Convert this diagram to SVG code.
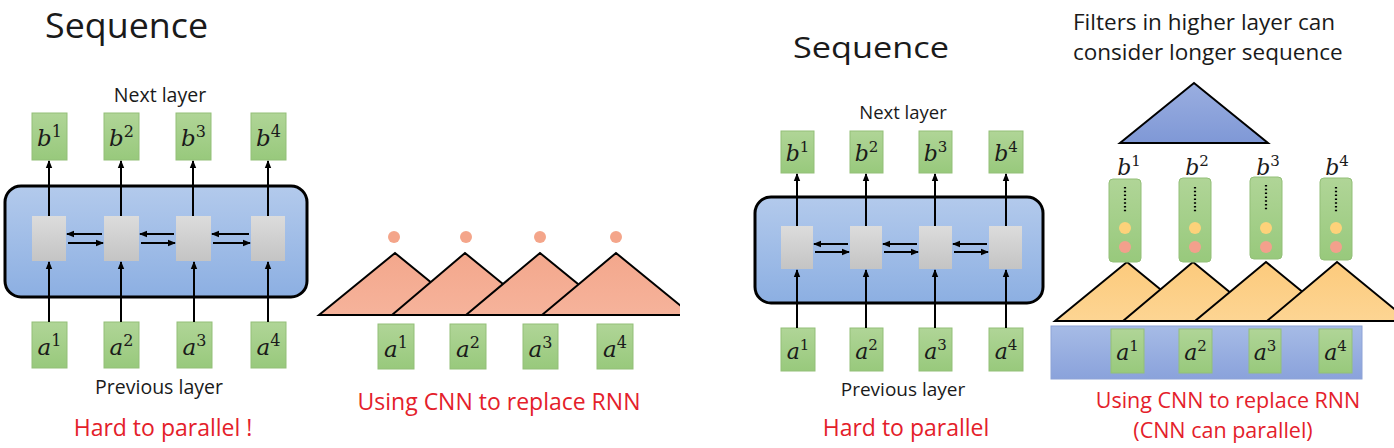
<svg xmlns="http://www.w3.org/2000/svg" width="1394" height="448" viewBox="0 0 1394 448">
<defs>
<linearGradient id="gGreen" x1="0" y1="0" x2="0" y2="1"><stop offset="0" stop-color="#b0d597"/><stop offset="1" stop-color="#98c97c"/></linearGradient>
<linearGradient id="gGray" x1="0" y1="0" x2="0" y2="1"><stop offset="0" stop-color="#dcdcdc"/><stop offset="1" stop-color="#c4c4c4"/></linearGradient>
<linearGradient id="gBlue" x1="0" y1="0" x2="0" y2="1"><stop offset="0" stop-color="#b3caec"/><stop offset="1" stop-color="#8cafe2"/></linearGradient>
<linearGradient id="gBar" x1="0" y1="0" x2="0" y2="1"><stop offset="0" stop-color="#a6bbe6"/><stop offset="1" stop-color="#8aa2db"/></linearGradient>
<linearGradient id="gTriBlue" x1="0" y1="0" x2="0" y2="1"><stop offset="0" stop-color="#9aaee0"/><stop offset="1" stop-color="#7f98d6"/></linearGradient>
<linearGradient id="gSalmon" x1="0" y1="0" x2="0" y2="1"><stop offset="0" stop-color="#f3a78c"/><stop offset="1" stop-color="#f6b39b"/></linearGradient>
<linearGradient id="gOrange" x1="0" y1="0" x2="0" y2="1"><stop offset="0" stop-color="#fcca7c"/><stop offset="1" stop-color="#fdd593"/></linearGradient>
<marker id="ah" viewBox="0 0 8 8" refX="7" refY="4" markerWidth="8" markerHeight="8" markerUnits="userSpaceOnUse" orient="auto"><path d="M0,0.8 L8,4 L0,7.2 z" fill="#000"/></marker>
<clipPath id="clipMid"><rect x="300" y="240" width="380" height="90"/></clipPath>
<clipPath id="clipRight"><rect x="1040" y="250" width="354" height="80"/></clipPath>
</defs>
<style>
.t{font-family:"Open Sans","Liberation Sans",sans-serif;fill:#1a1a1a}
.red{font-family:"Open Sans","Liberation Sans",sans-serif;fill:#e4202a}
.m{font-family:"DejaVu Serif","Liberation Serif",serif;fill:#1a1a1a}
.it{font-style:italic}
.gb{fill:url(#gGreen);stroke:#93bf78;stroke-width:1}
.gr{fill:url(#gGray);stroke:none}
.ar{stroke:#000;stroke-width:2;fill:none;marker-end:url(#ah)}
.tri{stroke:#000;stroke-width:2;stroke-linejoin:miter}
</style>

<!-- Left panel -->
<text class="t" x="45" y="38" font-size="34" textLength="163" lengthAdjust="spacingAndGlyphs">Sequence</text>
<text class="t" x="160" y="102" font-size="19.5" text-anchor="middle">Next layer</text>
<g id="L-rnn"><rect x="5" y="186" width="302" height="111" rx="16" fill="url(#gBlue)" stroke="#000" stroke-width="3"/></g>
<g id="L-b1"><rect class="gb" x="32" y="113" width="35" height="47"/><text class="m" x="49.5" y="146" font-size="23" text-anchor="middle"><tspan class="it">b</tspan><tspan font-size="16" dy="-9">1</tspan></text></g>
<g id="L-b2"><rect class="gb" x="104" y="113" width="35" height="47"/><text class="m" x="121.5" y="146" font-size="23" text-anchor="middle"><tspan class="it">b</tspan><tspan font-size="16" dy="-9">2</tspan></text></g>
<g id="L-b3"><rect class="gb" x="176" y="113" width="35" height="47"/><text class="m" x="193.5" y="146" font-size="23" text-anchor="middle"><tspan class="it">b</tspan><tspan font-size="16" dy="-9">3</tspan></text></g>
<g id="L-b4"><rect class="gb" x="251" y="113" width="35" height="47"/><text class="m" x="268.5" y="146" font-size="23" text-anchor="middle"><tspan class="it">b</tspan><tspan font-size="16" dy="-9">4</tspan></text></g>
<g id="L-c1"><rect class="gr" x="32" y="216" width="34" height="45"/></g>
<g id="L-c2"><rect class="gr" x="104" y="216" width="35" height="45"/></g>
<g id="L-c3"><rect class="gr" x="176" y="216" width="35" height="45"/></g>
<g id="L-c4"><rect class="gr" x="251" y="216" width="34" height="45"/></g>
<g id="L-a1"><rect class="gb" x="32" y="322" width="35" height="46"/><text class="m" x="49.5" y="355" font-size="23" text-anchor="middle"><tspan class="it">a</tspan><tspan font-size="16" dy="-9">1</tspan></text></g>
<g id="L-a2"><rect class="gb" x="104" y="322" width="35" height="46"/><text class="m" x="121.5" y="355" font-size="23" text-anchor="middle"><tspan class="it">a</tspan><tspan font-size="16" dy="-9">2</tspan></text></g>
<g id="L-a3"><rect class="gb" x="177" y="322" width="35" height="46"/><text class="m" x="194.5" y="355" font-size="23" text-anchor="middle"><tspan class="it">a</tspan><tspan font-size="16" dy="-9">3</tspan></text></g>
<g id="L-a4"><rect class="gb" x="251" y="322" width="35" height="46"/><text class="m" x="268.5" y="355" font-size="23" text-anchor="middle"><tspan class="it">a</tspan><tspan font-size="16" dy="-9">4</tspan></text></g>
<text class="t" x="159" y="394" font-size="19.5" text-anchor="middle">Previous layer</text>
<text class="red" x="163" y="436" font-size="23" text-anchor="middle">Hard to parallel !</text>
<g id="L-connectors">
<line class="ar" x1="49" y1="216" x2="49" y2="161"/>
<line class="ar" x1="121" y1="216" x2="121" y2="161"/>
<line class="ar" x1="193" y1="216" x2="193" y2="161"/>
<line class="ar" x1="268" y1="216" x2="268" y2="161"/>
<line class="ar" x1="49" y1="322" x2="49" y2="262"/>
<line class="ar" x1="121" y1="322" x2="121" y2="262"/>
<line class="ar" x1="194" y1="322" x2="194" y2="262"/>
<line class="ar" x1="268" y1="322" x2="268" y2="262"/>
<line class="ar" x1="102" y1="234" x2="67" y2="234"/>
<line class="ar" x1="68" y1="243" x2="103" y2="243"/>
<line class="ar" x1="174" y1="234" x2="140" y2="234"/>
<line class="ar" x1="141" y1="243" x2="175" y2="243"/>
<line class="ar" x1="249" y1="234" x2="212" y2="234"/>
<line class="ar" x1="213" y1="243" x2="250" y2="243"/>
</g>

<!-- Middle panel -->
<g id="M-filters" clip-path="url(#clipMid)">
<polygon class="tri" points="319,315 395,253 471,315" fill="url(#gSalmon)"/>
<polygon class="tri" points="392,315 465,253 541,315" fill="url(#gSalmon)"/>
<polygon class="tri" points="466,315 540,253 616,315" fill="url(#gSalmon)"/>
<polygon class="tri" points="542,315 616,253 692,315" fill="url(#gSalmon)"/>
</g>
<g id="M-dots" fill="#f4a58a">
<circle cx="394" cy="237" r="6"/><circle cx="466" cy="237" r="6"/><circle cx="540" cy="237" r="6"/><circle cx="616" cy="237" r="6"/>
</g>
<g id="M-a1"><rect class="gb" x="378" y="324" width="36" height="45"/><text class="m" x="396" y="357" font-size="23" text-anchor="middle"><tspan class="it">a</tspan><tspan font-size="16" dy="-9">1</tspan></text></g>
<g id="M-a2"><rect class="gb" x="450" y="324" width="36" height="45"/><text class="m" x="468" y="357" font-size="23" text-anchor="middle"><tspan class="it">a</tspan><tspan font-size="16" dy="-9">2</tspan></text></g>
<g id="M-a3"><rect class="gb" x="523" y="324" width="35" height="45"/><text class="m" x="540.5" y="357" font-size="23" text-anchor="middle"><tspan class="it">a</tspan><tspan font-size="16" dy="-9">3</tspan></text></g>
<g id="M-a4"><rect class="gb" x="597" y="324" width="36" height="45"/><text class="m" x="615" y="357" font-size="23" text-anchor="middle"><tspan class="it">a</tspan><tspan font-size="16" dy="-9">4</tspan></text></g>
<text class="red" x="499" y="410" font-size="23" text-anchor="middle">Using CNN to replace RNN</text>

<!-- Right RNN panel -->
<text class="t" x="793" y="58" font-size="30" textLength="156" lengthAdjust="spacingAndGlyphs">Sequence</text>
<text class="t" x="903" y="119" font-size="18.5" text-anchor="middle">Next layer</text>
<g id="R-rnn"><rect x="755" y="197" width="288" height="106" rx="16" fill="url(#gBlue)" stroke="#000" stroke-width="3"/></g>
<g id="R-b1"><rect class="gb" x="781" y="131" width="33" height="42"/><text class="m" x="797.5" y="161" font-size="22" text-anchor="middle"><tspan class="it">b</tspan><tspan font-size="15" dy="-9">1</tspan></text></g>
<g id="R-b2"><rect class="gb" x="850" y="131" width="33" height="42"/><text class="m" x="866.5" y="161" font-size="22" text-anchor="middle"><tspan class="it">b</tspan><tspan font-size="15" dy="-9">2</tspan></text></g>
<g id="R-b3"><rect class="gb" x="919" y="131" width="33" height="42"/><text class="m" x="935.5" y="161" font-size="22" text-anchor="middle"><tspan class="it">b</tspan><tspan font-size="15" dy="-9">3</tspan></text></g>
<g id="R-b4"><rect class="gb" x="989" y="131" width="34" height="42"/><text class="m" x="1006" y="161" font-size="22" text-anchor="middle"><tspan class="it">b</tspan><tspan font-size="15" dy="-9">4</tspan></text></g>
<g id="R-c1"><rect class="gr" x="781" y="226" width="32" height="43"/></g>
<g id="R-c2"><rect class="gr" x="850" y="226" width="32" height="43"/></g>
<g id="R-c3"><rect class="gr" x="919" y="226" width="33" height="43"/></g>
<g id="R-c4"><rect class="gr" x="989" y="226" width="33" height="43"/></g>
<g id="R-a1"><rect class="gb" x="781" y="328" width="34" height="43"/><text class="m" x="798" y="359" font-size="22" text-anchor="middle"><tspan class="it">a</tspan><tspan font-size="15" dy="-9">1</tspan></text></g>
<g id="R-a2"><rect class="gb" x="850" y="328" width="33" height="43"/><text class="m" x="866.5" y="359" font-size="22" text-anchor="middle"><tspan class="it">a</tspan><tspan font-size="15" dy="-9">2</tspan></text></g>
<g id="R-a3"><rect class="gb" x="919" y="328" width="33" height="43"/><text class="m" x="935.5" y="359" font-size="22" text-anchor="middle"><tspan class="it">a</tspan><tspan font-size="15" dy="-9">3</tspan></text></g>
<g id="R-a4"><rect class="gb" x="989" y="328" width="34" height="43"/><text class="m" x="1006" y="359" font-size="22" text-anchor="middle"><tspan class="it">a</tspan><tspan font-size="15" dy="-9">4</tspan></text></g>
<text class="t" x="903" y="396" font-size="19" text-anchor="middle">Previous layer</text>
<text class="red" x="906" y="436" font-size="23" text-anchor="middle">Hard to parallel</text>
<g id="R-connectors">
<line class="ar" x1="797" y1="226" x2="797" y2="174"/>
<line class="ar" x1="866" y1="226" x2="866" y2="174"/>
<line class="ar" x1="935" y1="226" x2="935" y2="174"/>
<line class="ar" x1="1006" y1="226" x2="1006" y2="174"/>
<line class="ar" x1="797" y1="328" x2="797" y2="270"/>
<line class="ar" x1="866" y1="328" x2="866" y2="270"/>
<line class="ar" x1="935" y1="328" x2="935" y2="270"/>
<line class="ar" x1="1006" y1="328" x2="1006" y2="270"/>
<line class="ar" x1="848" y1="244" x2="814" y2="244"/>
<line class="ar" x1="815" y1="252" x2="849" y2="252"/>
<line class="ar" x1="917" y1="244" x2="883" y2="244"/>
<line class="ar" x1="884" y1="252" x2="918" y2="252"/>
<line class="ar" x1="987" y1="244" x2="953" y2="244"/>
<line class="ar" x1="954" y1="252" x2="988" y2="252"/>
</g>

<!-- Right CNN panel -->
<text class="t" x="1073" y="30" font-size="22.5">Filters in higher layer can</text>
<text class="t" x="1073" y="60" font-size="22.5">consider longer sequence</text>
<g id="R-topfilter"><polygon class="tri" points="1120,143 1194,83 1268,143" fill="url(#gTriBlue)" stroke-width="3"/></g>
<g id="R-bar"><rect x="1051" y="326" width="311" height="53" fill="url(#gBar)" stroke="#8ea3d6" stroke-width="1"/></g>
<g id="R-filters" clip-path="url(#clipRight)">
<polygon class="tri" points="1055,321 1127,262 1199,321" fill="url(#gOrange)"/>
<polygon class="tri" points="1123,321 1193,262 1265,321" fill="url(#gOrange)"/>
<polygon class="tri" points="1195,321 1266,262 1338,321" fill="url(#gOrange)"/>
<polygon class="tri" points="1267,321 1337,262 1409,321" fill="url(#gOrange)"/>
</g>
<g id="R-col1"><rect class="gb" x="1109" y="179" width="32" height="83" rx="4"/><line x1="1125" y1="187" x2="1125" y2="213" stroke="#000" stroke-width="2.2" stroke-dasharray="1.5,2.3"/><circle cx="1125" cy="228" r="6" fill="#fdd27a"/><circle cx="1125" cy="247" r="6" fill="#f3a08c"/><text class="m" x="1129" y="175" font-size="22" text-anchor="middle"><tspan class="it">b</tspan><tspan font-size="15" dy="-9">1</tspan></text></g>
<g id="R-col2"><rect class="gb" x="1179" y="178" width="32" height="84" rx="4"/><line x1="1195" y1="187" x2="1195" y2="213" stroke="#000" stroke-width="2.2" stroke-dasharray="1.5,2.3"/><circle cx="1195" cy="228" r="6" fill="#fdd27a"/><circle cx="1195" cy="247" r="6" fill="#f3a08c"/><text class="m" x="1197" y="175" font-size="22" text-anchor="middle"><tspan class="it">b</tspan><tspan font-size="15" dy="-9">2</tspan></text></g>
<g id="R-col3"><rect class="gb" x="1250" y="177" width="32" height="82" rx="4"/><line x1="1266" y1="185" x2="1266" y2="211" stroke="#000" stroke-width="2.2" stroke-dasharray="1.5,2.3"/><circle cx="1266" cy="228" r="6" fill="#fdd27a"/><circle cx="1266" cy="247" r="6" fill="#f3a08c"/><text class="m" x="1268" y="175" font-size="22" text-anchor="middle"><tspan class="it">b</tspan><tspan font-size="15" dy="-9">3</tspan></text></g>
<g id="R-col4"><rect class="gb" x="1320" y="178" width="32" height="82" rx="4"/><line x1="1336" y1="187" x2="1336" y2="213" stroke="#000" stroke-width="2.2" stroke-dasharray="1.5,2.3"/><circle cx="1336" cy="228" r="6" fill="#fdd27a"/><circle cx="1336" cy="247" r="6" fill="#f3a08c"/><text class="m" x="1337" y="175" font-size="22" text-anchor="middle"><tspan class="it">b</tspan><tspan font-size="15" dy="-9">4</tspan></text></g>
<g id="R-a1c"><rect class="gb" x="1111" y="329" width="33" height="44"/><text class="m" x="1127.5" y="360" font-size="22" text-anchor="middle"><tspan class="it">a</tspan><tspan font-size="15" dy="-9">1</tspan></text></g>
<g id="R-a2c"><rect class="gb" x="1179" y="329" width="33" height="44"/><text class="m" x="1195.5" y="360" font-size="22" text-anchor="middle"><tspan class="it">a</tspan><tspan font-size="15" dy="-9">2</tspan></text></g>
<g id="R-a3c"><rect class="gb" x="1249" y="329" width="32" height="44"/><text class="m" x="1265" y="360" font-size="22" text-anchor="middle"><tspan class="it">a</tspan><tspan font-size="15" dy="-9">3</tspan></text></g>
<g id="R-a4c"><rect class="gb" x="1319" y="329" width="33" height="44"/><text class="m" x="1335.5" y="360" font-size="22" text-anchor="middle"><tspan class="it">a</tspan><tspan font-size="15" dy="-9">4</tspan></text></g>
<text class="red" x="1228" y="408" font-size="21.5" text-anchor="middle">Using CNN to replace RNN</text>
<text class="red" x="1223" y="438" font-size="21.5" text-anchor="middle">(CNN can parallel)</text>
</svg>
